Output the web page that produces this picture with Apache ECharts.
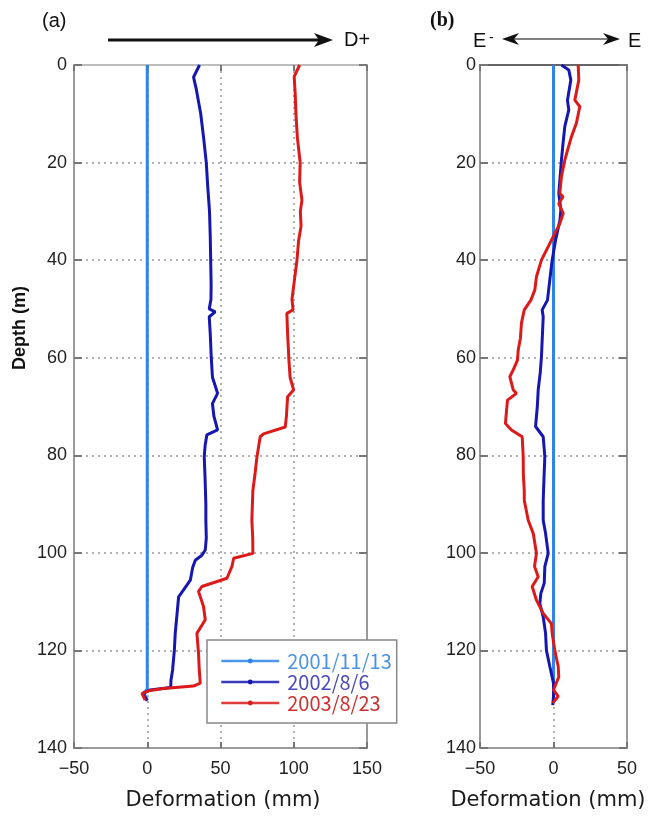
<!DOCTYPE html>
<html><head><meta charset="utf-8">
<script src="https://cdn.jsdelivr.net/npm/echarts@6/dist/echarts.min.js"></script>
<style>html,body{margin:0;padding:0;background:#fff}#c{width:649px;height:819px}</style>
</head><body><div id="c"></div>
<script>
// ---- data ----
var seriesNames = ['2001/11/13', '2002/8/6', '2003/8/23'];
var xTicksA = [-50, 0, 50, 100, 150];
var xTicksB = [-50, 0, 50];
var depthTicks = [0, 20, 40, 60, 80, 100, 120, 140];

// panel (a)
var aDepth1 = [0, 128, 128.8, 129.5, 130.2];
var aVal1 = [0, 0, -2.9, -1, 0];
var aDepth2 = [0,2.5,5,10,15,20,25,30,35,40,45,48,50,50.6,51.6,55,60,64,67.3,69.4,72,74.8,75.8,78,80.3,85,90,93.3,97,99.4,100.5,101.5,103,105.6,107.6,109,112,116.5,120,124,126.1,127.6,128.1,128.6,129.2,129.8,130.3];
var aVal2 = [35.7,31.6,33.5,36.5,38.5,40.3,41.3,42.5,43,43.3,43.6,43.5,42.3,46.4,42.3,43,43.7,44.5,48,44.5,45.5,48,40.7,39.5,38.9,39.5,40,40,40.3,39.6,37.3,32.8,31,29.4,24.8,21.4,20.5,19.1,18.5,17.3,16.2,16,2,-1.4,-2.5,-1,0];
var aDepth3 = [0,2.4,6,10,15,20,24,27.7,30,33,36,40,44,48,50.2,50.9,55,60.5,64,66.6,68,72,74.2,75.6,76.2,80.3,84,87.2,93.3,97,100.1,101.1,102.8,105.2,106.9,107.9,111,113.7,116.5,120.6,124,126.7,127.3,127.8,128.2,128.8,129.5,130.2];
var aVal3 = [104,100.3,101,101.5,102.5,104.4,104,105.6,104.5,105,103.3,102.2,100.5,98.8,99.5,95.3,95.8,96.7,97.5,99.9,95.8,95,94.2,79.4,77.1,74.9,73.5,72.1,71.4,72,72.1,59,57.8,54.4,37.3,35,38.4,39.6,33.9,35,35.5,36.2,31.6,11,2,-3.6,-2.5,-1.4];

// panel (b)
var bDepth1 = [0, 130];
var bVal1 = [0, 0];
var bDepth2 = [0,1,3.1,7.2,9.2,12.6,16,19.5,23,26.3,29.7,31.8,35.9,40,44,48.2,50.2,51.6,55,59.8,63,66.6,70,74.1,76.2,80.3,85,89.2,93.3,96,100.1,102.8,106.2,108.3,110.4,113.1,116.5,120,123.3,126.7,129.4,131.2];
var bVal2 = [5.4,10.4,11.8,9.5,10.4,7.7,6.5,5.4,4.5,3.6,5,4.4,1.4,-0.9,-2.5,-4.1,-7.7,-7,-7.5,-8.2,-9,-10.4,-11,-12.2,-7,-5.9,-6.5,-7,-7,-5.4,-3.6,-5.9,-6.3,-8.6,-9.3,-7,-5.4,-4.8,-2.5,0,0,-0.5];
var bDepth3 = [0,3.1,7.2,8.5,11.9,14.7,17,19.5,22.9,26.3,27,28.4,30.4,32.5,35.9,40,43.4,46.1,48.2,50.2,52.9,56,58.4,60.5,62.5,63.9,66.6,67.3,68.7,71,73.5,74.8,76.2,80.3,84,87.2,89.2,93.3,96,100.1,102.8,104.9,106.9,109.7,112.4,114.5,116.5,120,123.3,125.4,128.1,129.4,130.8];
var bVal3 = [16.8,17.2,14.5,17.9,15.6,12.2,10,7.7,5.4,4.3,6.5,3.6,6.6,4.3,-1.4,-8.2,-11.6,-12.7,-15.4,-19.9,-21.8,-22.5,-24,-24.5,-27.4,-29.7,-27.4,-25.2,-31.3,-32,-32.7,-28.6,-21.3,-20.6,-20.5,-19.9,-19.9,-17.2,-13.8,-11.6,-12.9,-10.4,-14.5,-11.6,-7,-1.4,-0.9,0.9,3.2,3.6,0,3.2,-0.5];

// ---- styles ----
var colors = ['#2f84ea', '#1616b0', '#dc1a1a'];
var legendText = ['#4a92e6', '#4a4ab8', '#cc3030'];
var tickFont = {fontFamily: 'Liberation Sans', fontSize: 18, color: '#222'};

function pairs(v, d) { return v.map(function (x, i) { return [x, d[i]]; }); }

function xAx(grid, min, max, show, lineColor) {
  return {
    type: 'value', gridIndex: grid, min: min, max: max, interval: 50,
    position: show ? 'bottom' : 'top',
    axisLine: {show: true, onZero: false, lineStyle: {color: lineColor, width: 2}},
    axisTick: {show: true, inside: true, length: 6, lineStyle: {color: '#777', width: 2}},
    axisLabel: show ? Object.assign({margin: 12, formatter: function (v) { return v < 0 ? '\u2212' + (-v) : String(v); }}, tickFont) : {show: false},
    splitLine: show ? {show: true, lineStyle: {type: [2, 4], color: '#999', width: 1.5}} : {show: false}
  };
}
function yAx(grid, show, margin) {
  return {
    type: 'value', gridIndex: grid, min: 0, max: 140, interval: 20, inverse: true,
    position: show ? 'left' : 'right',
    axisLine: {show: true, onZero: false, lineStyle: {color: '#9a9a9a', width: 2}},
    axisTick: {show: true, inside: true, length: 8, lineStyle: {color: '#777', width: 2}},
    axisLabel: show ? Object.assign({margin: margin}, tickFont) : {show: false},
    splitLine: show ? {show: true, lineStyle: {type: [2, 4], color: '#999', width: 1.5}} : {show: false}
  };
}
function ser(name, idx, data, ax) {
  return {
    name: name, type: 'line', xAxisIndex: ax, yAxisIndex: ax, data: data,
    symbol: 'circle', symbolSize: 3, showSymbol: false, animation: false,
    lineStyle: {color: colors[idx], width: 3}, itemStyle: {color: colors[idx]}, z: 2 + idx
  };
}

var txt = function (x, y, s, size, extra) {
  return {type: 'text', left: x, top: y, style: Object.assign({text: s, font: size + 'px Liberation Sans', fill: '#111'}, extra || {})};
};

var option = {
  animation: false,
  grid: [
    {left: 74, top: 65, width: 293, height: 683},
    {left: 480, top: 65, width: 147, height: 683}
  ],
  xAxis: [xAx(0, -50, 150, true, '#9a9a9a'), xAx(0, -50, 150, false, '#bdbdbd'), xAx(1, -50, 50, true, '#9a9a9a'), xAx(1, -50, 50, false, '#666')],
  yAxis: [yAx(0, true, 7), yAx(0, false), yAx(1, true, 4), yAx(1, false)],
  legend: {
    left: 207, top: 640, orient: 'vertical', padding: [11, 5, 10, 13],
    itemWidth: 58, itemHeight: 6, itemGap: 1,
    borderColor: '#888', borderWidth: 1.5, backgroundColor: '#fff',
    data: seriesNames.map(function (n, i) { return {name: n, textStyle: {color: legendText[i]}}; }),
    lineStyle: {width: 2.5, opacity: 0.85},
    textStyle: {fontFamily: 'Noto Sans CJK JP', fontSize: 20, lineHeight: 20, padding: [0, 0, 0, 3]}
  },
  series: [
    ser(seriesNames[0], 0, pairs(aVal1, aDepth1), 0),
    ser(seriesNames[1], 1, pairs(aVal2, aDepth2), 0),
    ser(seriesNames[2], 2, pairs(aVal3, aDepth3), 0),
    ser(seriesNames[0], 0, pairs(bVal1, bDepth1), 2),
    ser(seriesNames[1], 1, pairs(bVal2, bDepth2), 2),
    ser(seriesNames[2], 2, pairs(bVal3, bDepth3), 2)
  ],
  graphic: [
    txt(42, 11, '(a)', 20),
    txt(430, 11, '(b)', 20, {font: 'bold 20px Liberation Serif'}),
    {type: 'line', shape: {x1: 108, y1: 40, x2: 322, y2: 40}, style: {stroke: '#111', lineWidth: 3}},
    {type: 'polygon', shape: {points: [[333, 40], [314, 33], [319, 40], [314, 47]]}, style: {fill: '#111'}},
    txt(344, 30, 'D+', 20),
    txt(473, 31, 'E', 20),
    txt(489, 31, '-', 14),
    {type: 'line', shape: {x1: 508, y1: 39, x2: 614, y2: 39}, style: {stroke: '#555', lineWidth: 1.5}},
    {type: 'polygon', shape: {points: [[502, 39], [519, 33], [514, 39], [519, 45]]}, style: {fill: '#111'}},
    {type: 'polygon', shape: {points: [[620, 39], [603, 33], [608, 39], [603, 45]]}, style: {fill: '#111'}},
    txt(628, 31, 'E', 20),
    {type: 'text', x: 20, y: 328, rotation: Math.PI / 2, style: {text: 'Depth (m)', font: 'bold 18px Liberation Sans', fill: '#111', align: 'center', verticalAlign: 'middle'}},
    {type: 'text', x: 223, y: 801, style: {text: 'Deformation (mm)', font: '21px DejaVu Sans', fill: '#1a1a1a', align: 'center', verticalAlign: 'middle'}},
    {type: 'text', x: 548, y: 801, style: {text: 'Deformation (mm)', font: '21px DejaVu Sans', fill: '#1a1a1a', align: 'center', verticalAlign: 'middle'}}
  ]
};
echarts.init(document.getElementById('c'), null, {renderer: 'canvas'}).setOption(option);
</script></body></html>
